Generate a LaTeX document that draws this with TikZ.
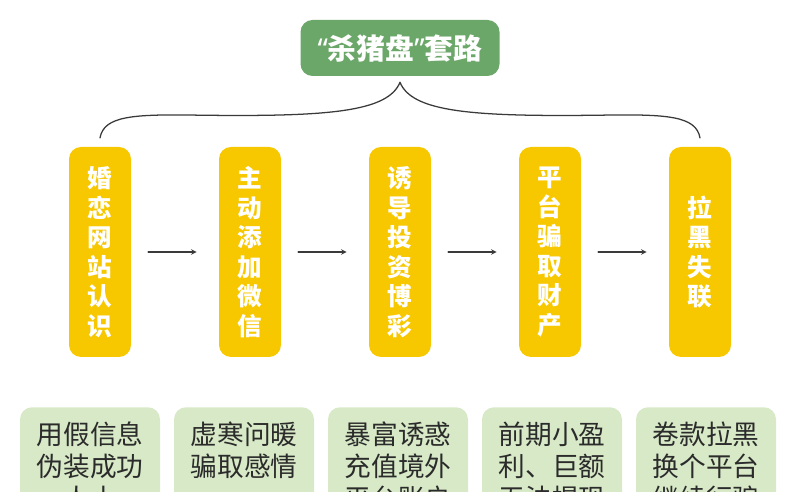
\documentclass[tikz,border=0pt]{standalone}
\usepackage{fontspec}
\setmainfont{Noto Sans CJK SC}
\newfontfamily\latinfont{Noto Sans}
\definecolor{xanhla}{HTML}{6CA76A}
\definecolor{vang}{HTML}{F7C800}
\definecolor{xanhnhat}{HTML}{D7E9C6}
\definecolor{chu}{HTML}{2B2B2B}
\definecolor{net}{HTML}{3A3A3A}
\begin{document}
\begin{tikzpicture}[>=stealth, line join=round, line cap=round,
	tieude/.style={fill=xanhla, text=white, rounded corners=0.3cm, minimum width=4.975cm, minimum height=1.4cm, font=\fontsize{20.5}{24}\selectfont\bfseries},
	buoc/.style={fill=vang, text=white, rounded corners=0.3cm, minimum width=1.55cm, minimum height=5.25cm, inner sep=0pt, align=center, font=\fontsize{17.5}{21}\selectfont\bfseries},
	ghichu/.style={fill=xanhnhat, text=chu, rounded corners=0.3cm, minimum width=3.5cm, inner xsep=0pt, inner ysep=0.375cm, anchor=north, align=center, font=\fontsize{19}{22.7}\selectfont},
	muiten/.style={draw=net, line width=0.8pt},
	ngoac/.style={draw=net, line width=0.9pt}]
		% Khung hình và vùng cắt
		\useasboundingbox (0,0) rectangle (20,12.3);
		\clip (0,0) rectangle (20,12.3);
		% ==================== TIÊU ĐỀ ====================
		\node[tieude] (T) at (10,11.1) {{\latinfont “}杀猪盘{\latinfont ”}套路};
		% ==================== CÁC BƯỚC ====================
		\foreach \i/\t in {1/{婚\\恋\\网\\站\\认\\识}, 2/{主\\动\\添\\加\\微\\信}, 3/{诱\\导\\投\\资\\博\\彩}, 4/{平\\台\\骗\\取\\财\\产}, 5/{拉\\黑\\失\\联}}
		\node[buoc] (B\i) at ({2.5+3.75*(\i-1)},6) {\t};
		% ==================== MŨI TÊN ====================
		\foreach \a/\b in {B1/B2, B2/B3, B3/B4, B4/B5}
		\draw[->, muiten, shorten <=0.42cm, shorten >=0.55cm] (\a) -- (\b);
		% ==================== NGOẶC ====================
		\path ([yshift=-0.15cm]T.south) coordinate (D)
		([yshift=0.22cm]B1.north) coordinate (L)
		([yshift=0.22cm]B5.north) coordinate (R);
		\draw[ngoac] (L) .. controls (2.6,9.4) and (3.3,9.45) .. (5,9.42)
		.. controls (8.2,9.38) and (9.7,9.5) .. (D)
		.. controls (10.3,9.5) and (11.8,9.38) .. (15,9.42)
		.. controls (16.7,9.45) and (17.4,9.4) .. (R);
		% ==================== GHI CHÚ ====================
		\foreach \i/\t in {1/{用假信息\\伪装成功\\人士}, 2/{虚寒问暖\\骗取感情\\\mbox{}}, 3/{暴富诱惑\\充值境外\\平台账户}, 4/{前期小盈\\利、巨额\\无法提现}, 5/{卷款拉黑\\换个平台\\继续行骗}}
		\node[ghichu] (G\i) at ({2.25+3.85*(\i-1)},2.125) {\t};
	\end{tikzpicture}
\end{document}
